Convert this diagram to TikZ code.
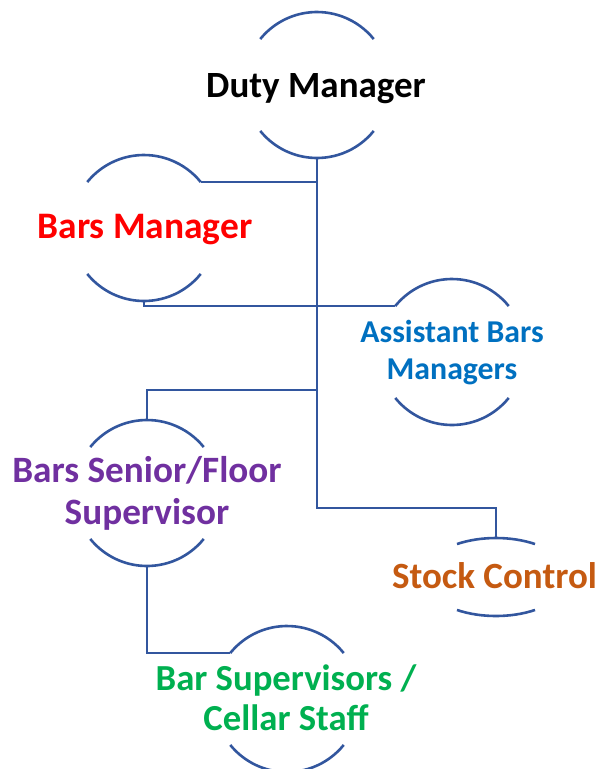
\documentclass[tikz,border=0pt]{standalone}
\usepackage{fontspec}
\setmainfont{Carlito}
\usetikzlibrary{calc}
\definecolor{linec}{RGB}{50,86,158}
\definecolor{cred}{RGB}{255,0,0}
\definecolor{cblue}{RGB}{0,112,192}
\definecolor{cpurple}{RGB}{112,48,160}
\definecolor{corange}{RGB}{197,90,17}
\definecolor{cgreen}{RGB}{0,176,80}
\begin{document}
\begin{tikzpicture}[x=1pt,y=-1pt,
  conn/.style={draw=linec,line width=2.6pt},
  arcline/.style={draw=linec,line width=2.6pt},
  lbl/.style={inner sep=0pt,align=center,anchor=base},
  fs/.style n args={2}{font=\fontsize{#1}{#2}\selectfont\bfseries}]
\useasboundingbox (0,0) rectangle (599,769);
% centres of the circles
\coordinate (dmc) at (317,85);
\coordinate (bmc) at (144,228);
\coordinate (abc) at (452,352);
\coordinate (bsc) at (147,493);
\coordinate (scc) at (496,577);
\coordinate (bvc) at (287,699);
% texts
\node[lbl,fs={37}{44}] (dm) at (316,97) {Duty Manager};
\node[lbl,fs={37.4}{44},text=cred] (bm) at (145,238) {Bars Manager};
\node[lbl,fs={31.8}{36.5},text=cblue] (ab) at (452,379) {Assistant Bars\\Managers};
\node[lbl,fs={37.2}{42},text=cpurple] (bs) at (147,524) {Bars Senior/Floor\\Supervisor};
\node[lbl,fs={37}{42},text=corange] (sc) at (494.5,588) {Stock Control};
\node[lbl,fs={36.7}{40},text=cgreen] (bv) at (286,730) {Bar Supervisors /\\Cellar Staff};
% arcs of the circles
\foreach \c in {dmc,bmc,abc,bsc,bvc}{
  \draw[arcline] ($(\c)+(39:73pt)$) arc[start angle=39,end angle=141,radius=73pt];
  \draw[arcline] ($(\c)+(-39:73pt)$) arc[start angle=-39,end angle=-141,radius=73pt];
}
\draw[arcline] ($(scc)+(57.7:73pt and 39pt)$) arc[start angle=57.7,end angle=122.3,x radius=73pt,y radius=39pt];
\draw[arcline] ($(scc)+(-57.7:73pt and 39pt)$) arc[start angle=-57.7,end angle=-122.3,x radius=73pt,y radius=39pt];
% anchor points on the circles
\coordinate (dmB) at ($(dmc)+(270:73pt)$);
\coordinate (bmTR) at ($(bmc)+(39:73pt)$);
\coordinate (bmB) at ($(bmc)+(270:73pt)$);
\coordinate (abTL) at ($(abc)+(141:73pt)$);
\coordinate (bsT) at ($(bsc)+(90:73pt)$);
\coordinate (bsB) at ($(bsc)+(270:73pt)$);
\coordinate (bvTL) at ($(bvc)+(141:73pt)$);
\coordinate (scT) at ($(scc)+(90:39pt)$);
\coordinate (j4) at (317,390);
\coordinate (j5) at (317,508);
% connectors
\draw[conn] (dmB) -- (j5) -| (scT);
\draw[conn] (bmTR) -- (bmTR -| dmB);
\draw[conn] (bmB) |- (abTL);
\draw[conn] (j4) -| (bsT);
\draw[conn] (bsB) |- (bvTL);
\end{tikzpicture}
\end{document}
